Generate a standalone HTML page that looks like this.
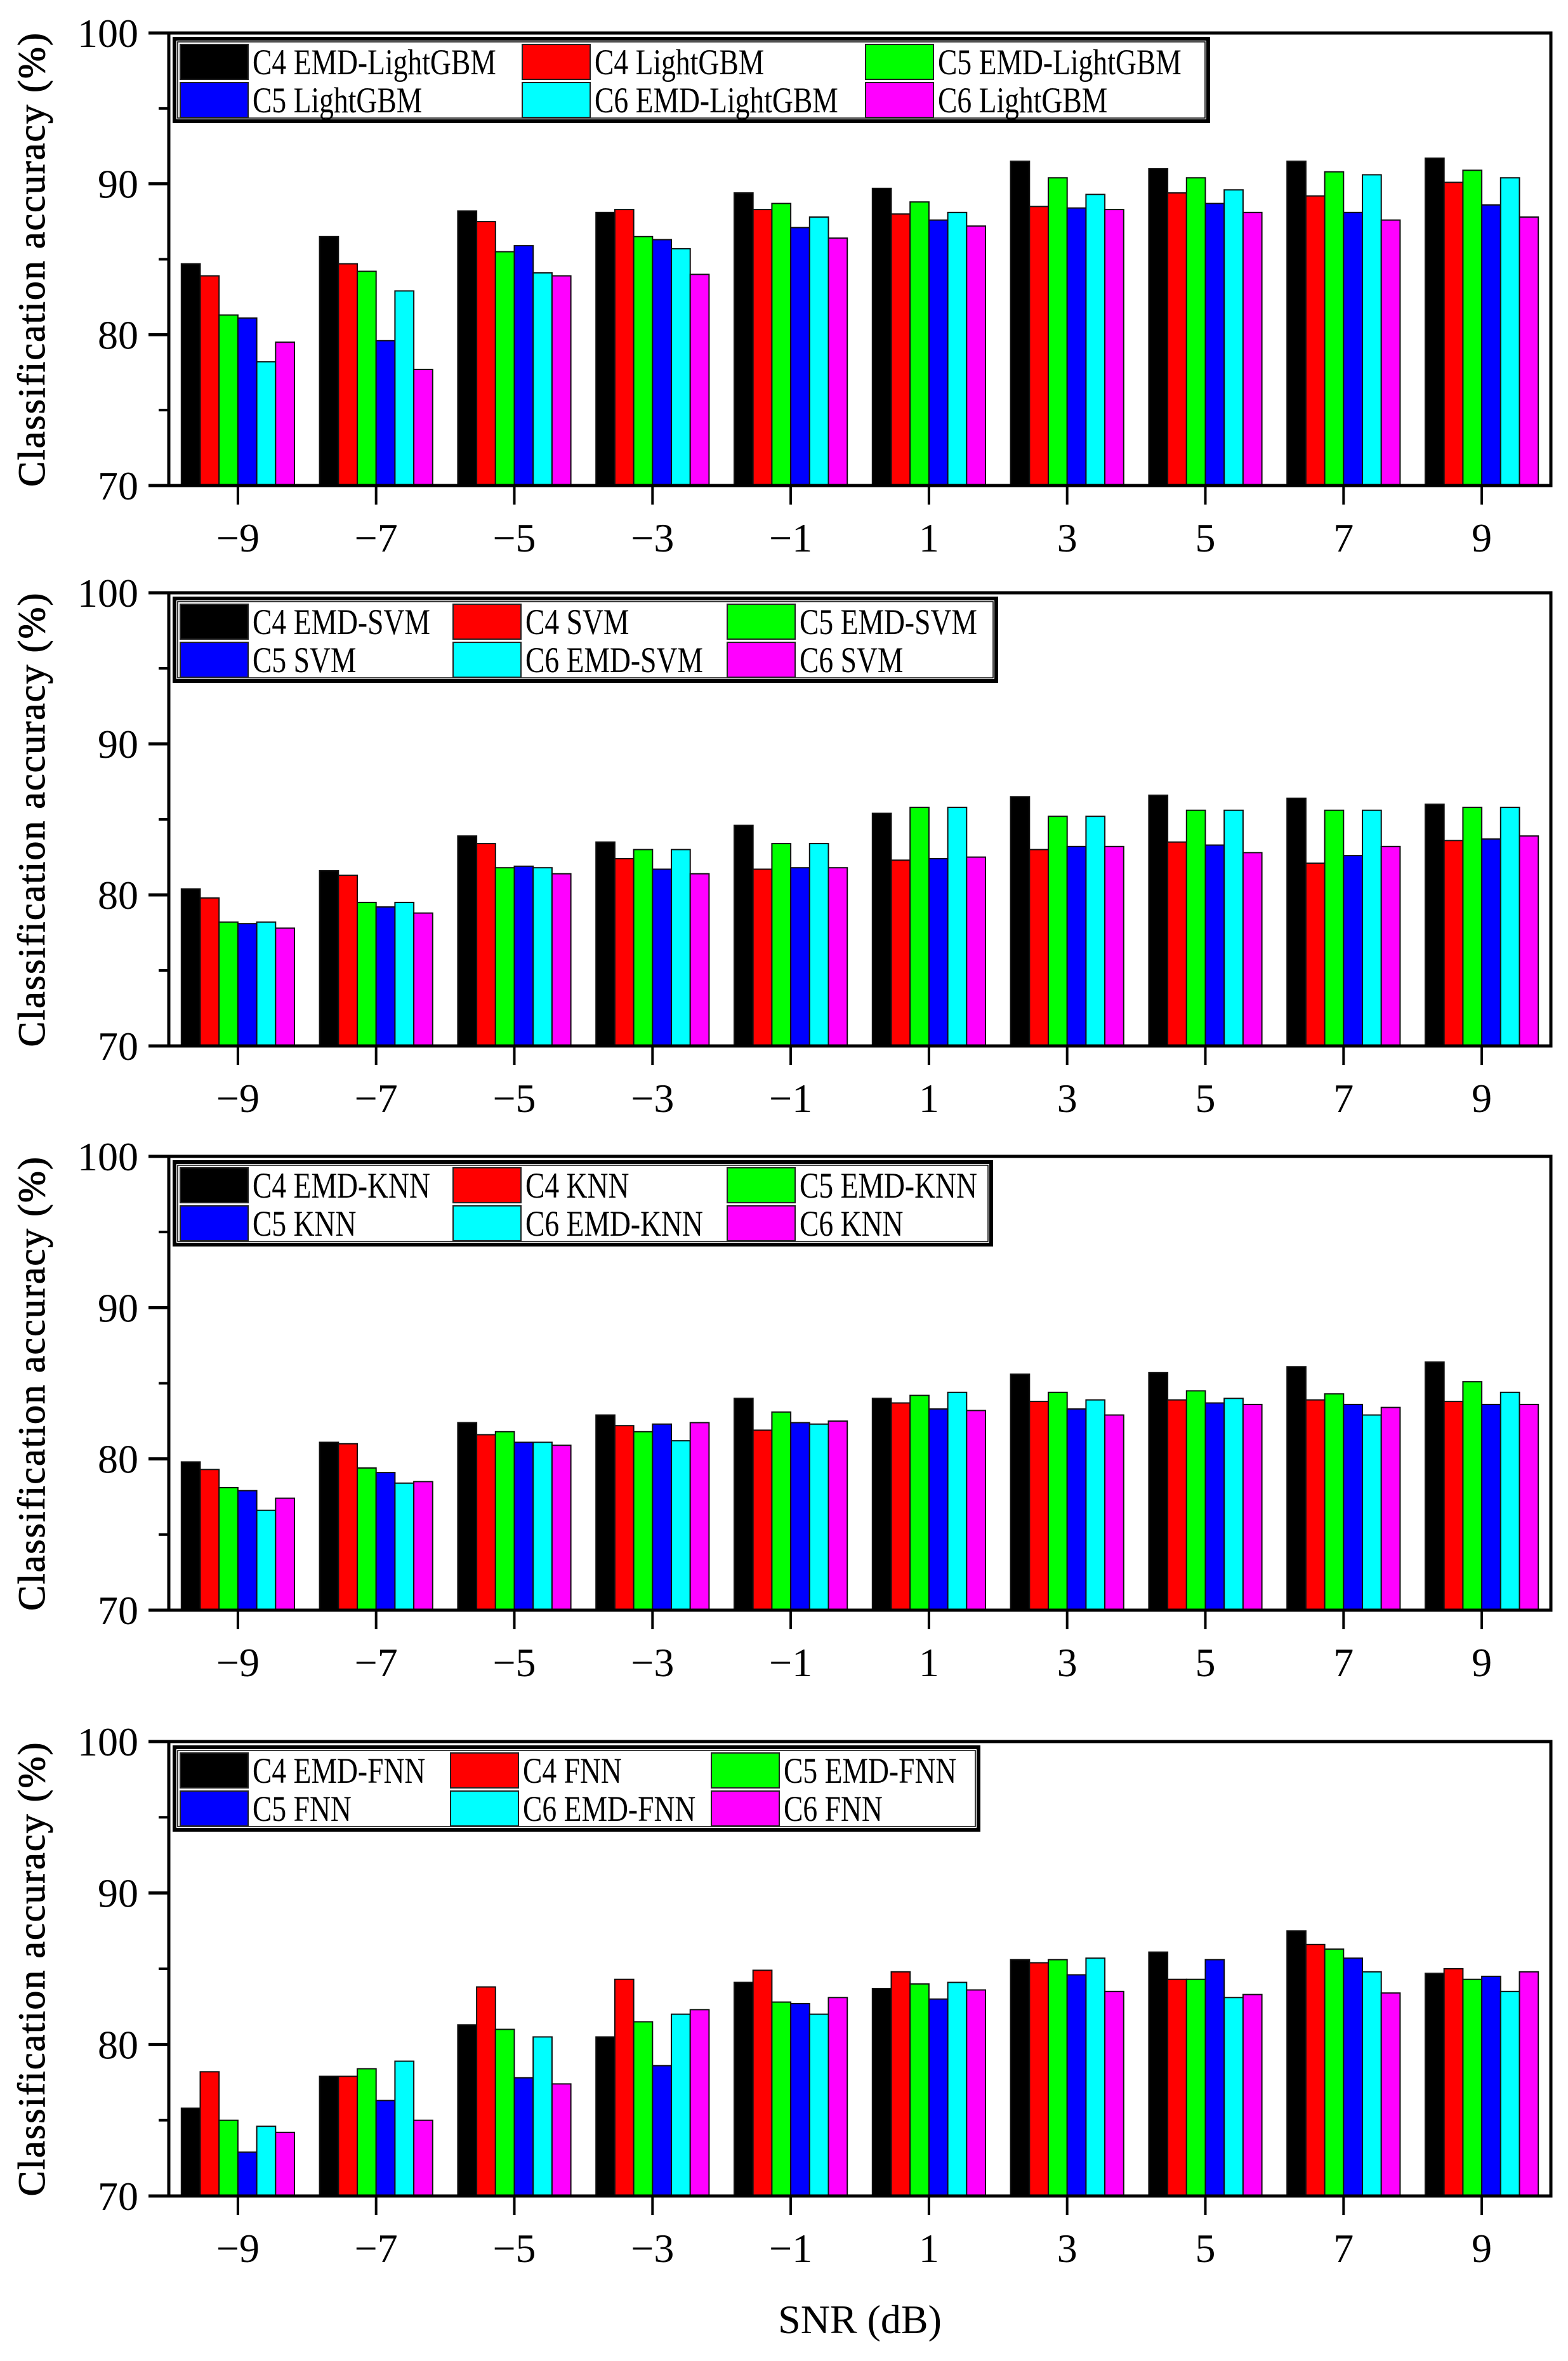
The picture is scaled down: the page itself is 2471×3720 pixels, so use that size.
<!DOCTYPE html>
<html><head><meta charset="utf-8"><style>
html,body{margin:0;padding:0;background:#fff;width:2471px;height:3720px;overflow:hidden}
svg{display:block}
text{font-family:"Liberation Serif",serif;fill:#000}
</style></head><body>
<svg id="s" width="2471" height="3720" xmlns="http://www.w3.org/2000/svg"></svg>
<script>
const S=document.getElementById('s');
let h='';
const L=266,R=2444,W=R-L;
const cols=['#000000','#ff0000','#00ff00','#0000ff','#00ffff','#ff00ff'];
const xl=['\u22129','\u22127','\u22125','\u22123','\u22121','1','3','5','7','9'];
const panels=[
 {top:52,bot:765,names:['C4 EMD-LightGBM','C4 LightGBM','C5 EMD-LightGBM','C5 LightGBM','C6 EMD-LightGBM','C6 LightGBM'],cx:[284,823,1364],right:1904,
  d:[[84.7,83.9,81.3,81.1,78.2,79.5],[86.5,84.7,84.2,79.6,82.9,77.7],[88.2,87.5,85.5,85.9,84.1,83.9],[88.1,88.3,86.5,86.3,85.7,84.0],[89.4,88.3,88.7,87.1,87.8,86.4],[89.7,88.0,88.8,87.6,88.1,87.2],[91.5,88.5,90.4,88.4,89.3,88.3],[91.0,89.4,90.4,88.7,89.6,88.1],[91.5,89.2,90.8,88.1,90.6,87.6],[91.7,90.1,90.9,88.6,90.4,87.8]]},
 {top:934,bot:1648,names:['C4 EMD-SVM','C4 SVM','C5 EMD-SVM','C5 SVM','C6 EMD-SVM','C6 SVM'],cx:[284,714,1146],right:1570,
  d:[[80.4,79.8,78.2,78.1,78.2,77.8],[81.6,81.3,79.5,79.2,79.5,78.8],[83.9,83.4,81.8,81.9,81.8,81.4],[83.5,82.4,83.0,81.7,83.0,81.4],[84.6,81.7,83.4,81.8,83.4,81.8],[85.4,82.3,85.8,82.4,85.8,82.5],[86.5,83.0,85.2,83.2,85.2,83.2],[86.6,83.5,85.6,83.3,85.6,82.8],[86.4,82.1,85.6,82.6,85.6,83.2],[86.0,83.6,85.8,83.7,85.8,83.9]]},
 {top:1822,bot:2537,names:['C4 EMD-KNN','C4 KNN','C5 EMD-KNN','C5 KNN','C6 EMD-KNN','C6 KNN'],cx:[284,714,1146],right:1562,
  d:[[79.8,79.3,78.1,77.9,76.6,77.4],[81.1,81.0,79.4,79.1,78.4,78.5],[82.4,81.6,81.8,81.1,81.1,80.9],[82.9,82.2,81.8,82.3,81.2,82.4],[84.0,81.9,83.1,82.4,82.3,82.5],[84.0,83.7,84.2,83.3,84.4,83.2],[85.6,83.8,84.4,83.3,83.9,82.9],[85.7,83.9,84.5,83.7,84.0,83.6],[86.1,83.9,84.3,83.6,82.9,83.4],[86.4,83.8,85.1,83.6,84.4,83.6]]},
 {top:2744,bot:3460,names:['C4 EMD-FNN','C4 FNN','C5 EMD-FNN','C5 FNN','C6 EMD-FNN','C6 FNN'],cx:[284,710,1121],right:1542,
  d:[[75.8,78.2,75.0,72.9,74.6,74.2],[77.9,77.9,78.4,76.3,78.9,75.0],[81.3,83.8,81.0,77.8,80.5,77.4],[80.5,84.3,81.5,78.6,82.0,82.3],[84.1,84.9,82.8,82.7,82.0,83.1],[83.7,84.8,84.0,83.0,84.1,83.6],[85.6,85.4,85.6,84.6,85.7,83.5],[86.1,84.3,84.3,85.6,83.1,83.3],[87.5,86.6,86.3,85.7,84.8,83.4],[84.7,85.0,84.3,84.5,83.5,84.8]]}
];
for(const p of panels){
  const T=p.top,B=p.bot,H=B-T;
  const y=v=>B-(v-70)/30*H;
  const gw=W/10,bw=29.7;
  p.d.forEach((g,i)=>{
    const c=L+gw*(i+0.5),x0=c-bw*3;
    g.forEach((v,j)=>{h+=`<rect x="${(x0+j*bw).toFixed(1)}" y="${y(v).toFixed(1)}" width="${bw}" height="${(B-y(v)).toFixed(1)}" fill="${cols[j]}" stroke="#111" stroke-width="2"/>`;});
    h+=`<line x1="${c}" y1="${B}" x2="${c}" y2="${B+30}" stroke="#000" stroke-width="4"/>`;
    h+=`<text x="${c}" y="${B+104}" font-size="64" text-anchor="middle">${xl[i]}</text>`;
  });
  h+=`<rect x="${L}" y="${T}" width="${W}" height="${H}" fill="none" stroke="#000" stroke-width="5"/>`;
  [70,80,90,100].forEach(v=>{h+=`<line x1="${L-32}" y1="${y(v)}" x2="${L}" y2="${y(v)}" stroke="#000" stroke-width="5"/><text x="${L-48}" y="${y(v)+22}" font-size="64" text-anchor="end">${v}</text>`;});
  [75,85,95].forEach(v=>{h+=`<line x1="${L-16}" y1="${y(v)}" x2="${L}" y2="${y(v)}" stroke="#000" stroke-width="4"/>`;});
  const my=(T+B)/2;
  h+=`<text transform="translate(70,${my}) rotate(-90)" font-size="60" text-anchor="middle" letter-spacing="2" stroke="#000" stroke-width="1">Classification accuracy (%)</text>`;
  const lt=T+9,lb=T+139;
  h+=`<rect x="275" y="${lt}" width="${p.right-275}" height="${lb-lt}" fill="#fff" stroke="#000" stroke-width="6"/>`;
  h+=`<rect x="280" y="${lt+5}" width="${p.right-285}" height="${lb-lt-10}" fill="none" stroke="#000" stroke-width="1.5"/>`;
  for(let k=0;k<6;k++){
    const col=k%3,row=Math.floor(k/3);
    const sx=p.cx[col],sy=lt+9+row*60;
    h+=`<rect x="${sx}" y="${sy}" width="107" height="55" fill="${cols[k]}" stroke="#222" stroke-width="2"/>`;
    h+=`<text transform="translate(${sx+114},${sy+47}) scale(0.8,1)" font-size="57">${p.names[k]}</text>`;
  }
}
h+=`<text x="1355" y="3676" font-size="64" text-anchor="middle">SNR (dB)</text>`;
S.innerHTML=h;
</script>
</body></html>
